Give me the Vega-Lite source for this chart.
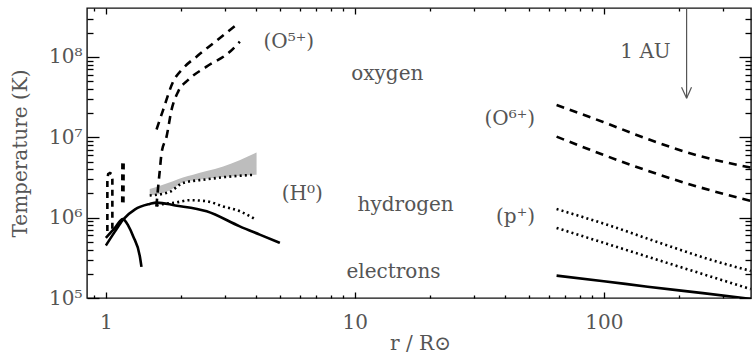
{
  "$schema": "https://vega.github.io/schema/vega-lite/v6.json",
  "autosize": {"type": "none"},
  "padding": {"left": 87, "top": 8, "right": 1, "bottom": 57},
  "width": 664,
  "height": 290,
  "background": "white",
  "config": {
    "view": {"stroke": "#111111", "strokeWidth": 1.4},
    "axis": {
      "grid": false,
      "domain": false,
      "ticks": true,
      "zindex": 1,
      "labelFont": "DejaVu Serif",
      "labelFontSize": 20,
      "labelColor": "#555555",
      "titleFont": "DejaVu Serif",
      "titleFontSize": 20,
      "titleFontWeight": "normal",
      "titleColor": "#555555",
      "tickColor": "#000000",
      "tickOpacity": 1,
      "tickWidth": 1.3
    }
  },
  "resolve": {"axis": {"x": "independent", "y": "independent"}},
  "layer": [
    {
      "data": {"values": [
        {"x": 1.50, "lo": 1.9e6, "hi": 2.27e6},
        {"x": 1.65, "lo": 1.97e6, "hi": 2.5e6},
        {"x": 1.86, "lo": 2.3e6, "hi": 2.83e6},
        {"x": 2.04, "lo": 2.75e6, "hi": 3.15e6},
        {"x": 2.24, "lo": 2.9e6, "hi": 3.42e6},
        {"x": 2.54, "lo": 3.05e6, "hi": 3.8e6},
        {"x": 2.96, "lo": 3.2e6, "hi": 4.33e6},
        {"x": 4.03, "lo": 3.42e6, "hi": 6.47e6}
      ]},
      "mark": {"type": "area", "color": "#bdbdbd", "clip": true, "interpolate": "monotone"},
      "encoding": {
        "x": {"field": "x", "type": "quantitative",
              "scale": {"type": "log", "domain": [0.84, 390], "nice": false},
              "axis": {"orient": "top", "values": [0.9, 2, 3, 4, 5, 6, 7, 8, 9, 20, 30, 40, 50, 60, 70, 80, 90, 200, 300],
                       "labels": false, "tickSize": 3, "offset": -3, "title": null}},
        "y": {"field": "lo", "type": "quantitative",
              "scale": {"type": "log", "domain": [1e5, 4.07e8], "nice": false},
              "axis": {"orient": "right", "values": [2e5, 3e5, 4e5, 5e5, 6e5, 7e5, 8e5, 9e5, 2e6, 3e6, 4e6, 5e6, 6e6, 7e6, 8e6, 9e6, 2e7, 3e7, 4e7, 5e7, 6e7, 7e7, 8e7, 9e7, 2e8, 3e8],
                       "labels": false, "tickSize": 6, "offset": -6, "title": null}},
        "y2": {"field": "hi"}
      }
    },
    {
      "data": {"values": [
        {"s": "d1", "i": 0, "x": 1.50, "y": 1.89e6},
        {"s": "d1", "i": 1, "x": 1.65, "y": 1.95e6},
        {"s": "d1", "i": 2, "x": 1.81, "y": 2.1e6},
        {"s": "d1", "i": 3, "x": 2.04, "y": 2.7e6},
        {"s": "d1", "i": 4, "x": 2.54, "y": 3.0e6},
        {"s": "d1", "i": 5, "x": 3.0, "y": 3.2e6},
        {"s": "d1", "i": 6, "x": 3.97, "y": 3.42e6},
        {"s": "d2", "i": 0, "x": 1.60, "y": 1.42e6},
        {"s": "d2", "i": 1, "x": 1.648, "y": 1.45e6},
        {"s": "d2", "i": 2, "x": 1.922, "y": 1.55e6},
        {"s": "d2", "i": 3, "x": 2.175, "y": 1.65e6},
        {"s": "d2", "i": 4, "x": 2.54, "y": 1.6e6},
        {"s": "d2", "i": 5, "x": 2.959, "y": 1.38e6},
        {"s": "d2", "i": 6, "x": 3.452, "y": 1.2e6},
        {"s": "d2", "i": 7, "x": 3.966, "y": 9.63e5},
        {"s": "d3", "i": 0, "x": 64.6, "y": 1.28e6},
        {"s": "d3", "i": 1, "x": 105.7, "y": 7.96e5},
        {"s": "d3", "i": 2, "x": 168, "y": 4.85e5},
        {"s": "d3", "i": 3, "x": 267, "y": 3.01e5},
        {"s": "d3", "i": 4, "x": 389, "y": 2.17e5},
        {"s": "d4", "i": 0, "x": 64.6, "y": 7.45e5},
        {"s": "d4", "i": 1, "x": 105.7, "y": 4.6e5},
        {"s": "d4", "i": 2, "x": 168, "y": 2.92e5},
        {"s": "d4", "i": 3, "x": 267, "y": 1.86e5},
        {"s": "d4", "i": 4, "x": 389, "y": 1.29e5}
      ]},
      "mark": {"type": "line", "color": "#000000", "strokeWidth": 2.6, "strokeDash": [2, 3.2], "clip": true, "interpolate": "monotone"},
      "encoding": {
        "x": {"field": "x", "type": "quantitative",
              "scale": {"type": "log", "domain": [0.84, 390], "nice": false},
              "axis": {"orient": "top", "values": [1, 10, 100], "labels": false, "tickSize": 6, "offset": -6, "title": null}},
        "y": {"field": "y", "type": "quantitative",
              "scale": {"type": "log", "domain": [1e5, 4.07e8], "nice": false},
              "axis": {"orient": "right", "values": [1e5, 1e6, 1e7, 1e8], "labels": false, "tickSize": 12, "offset": -12, "title": null}},
        "detail": {"field": "s"},
        "order": {"field": "i"}
      }
    },
    {
      "data": {"values": [
        {"s": "o5a", "i": 0, "x": 1.598, "y": 1.25e7},
        {"s": "o5a", "i": 1, "x": 1.699, "y": 2.2e7},
        {"s": "o5a", "i": 2, "x": 1.863, "y": 4.93e7},
        {"s": "o5a", "i": 3, "x": 2.044, "y": 7.24e7},
        {"s": "o5a", "i": 4, "x": 2.313, "y": 1.01e8},
        {"s": "o5a", "i": 5, "x": 2.698, "y": 1.48e8},
        {"s": "o5a", "i": 6, "x": 3.40, "y": 2.62e8},
        {"s": "o5b", "i": 0, "x": 1.595, "y": 1.37e6},
        {"s": "o5b", "i": 1, "x": 1.621, "y": 2.36e6},
        {"s": "o5b", "i": 2, "x": 1.648, "y": 3.95e6},
        {"s": "o5b", "i": 3, "x": 1.674, "y": 6.37e6},
        {"s": "o5b", "i": 4, "x": 1.753, "y": 1.02e7},
        {"s": "o5b", "i": 5, "x": 1.836, "y": 2.2e7},
        {"s": "o5b", "i": 6, "x": 1.952, "y": 3.71e7},
        {"s": "o5b", "i": 7, "x": 2.141, "y": 5.18e7},
        {"s": "o5b", "i": 8, "x": 2.538, "y": 7.58e7},
        {"s": "o5b", "i": 9, "x": 3.148, "y": 1.16e8},
        {"s": "o5b", "i": 10, "x": 3.452, "y": 1.55e8},
        {"s": "o6a", "i": 0, "x": 64.6, "y": 2.53e7},
        {"s": "o6a", "i": 1, "x": 99.4, "y": 1.55e7},
        {"s": "o6a", "i": 2, "x": 153, "y": 9.3e6},
        {"s": "o6a", "i": 3, "x": 236, "y": 6.0e6},
        {"s": "o6a", "i": 4, "x": 389, "y": 4.2e6},
        {"s": "o6b", "i": 0, "x": 64.6, "y": 1.02e7},
        {"s": "o6b", "i": 1, "x": 99.4, "y": 6.06e6},
        {"s": "o6b", "i": 2, "x": 153, "y": 3.76e6},
        {"s": "o6b", "i": 3, "x": 236, "y": 2.45e6},
        {"s": "o6b", "i": 4, "x": 389, "y": 1.62e6}
      ]},
      "mark": {"type": "line", "color": "#000000", "strokeWidth": 2.6, "strokeDash": [8, 6], "clip": true, "interpolate": "monotone"},
      "encoding": {
        "x": {"field": "x", "type": "quantitative",
              "scale": {"type": "log", "domain": [0.84, 390], "nice": false},
              "axis": {"orient": "bottom", "values": [0.9, 2, 3, 4, 5, 6, 7, 8, 9, 20, 30, 40, 50, 60, 70, 80, 90, 200, 300],
                       "labels": false, "tickSize": 3, "offset": -3, "title": null}},
        "y": {"field": "y", "type": "quantitative",
              "scale": {"type": "log", "domain": [1e5, 4.07e8], "nice": false},
              "axis": {"orient": "left", "values": [2e5, 3e5, 4e5, 5e5, 6e5, 7e5, 8e5, 9e5, 2e6, 3e6, 4e6, 5e6, 6e6, 7e6, 8e6, 9e6, 2e7, 3e7, 4e7, 5e7, 6e7, 7e7, 8e7, 9e7, 2e8, 3e8],
                       "labels": false, "tickSize": 6, "offset": -6, "title": null}},
        "detail": {"field": "s"},
        "order": {"field": "i"}
      }
    },
    {
      "data": {"values": [
        {"s": "h1", "i": 0, "x": 1.014, "y": 6.8e5},
        {"s": "h1", "i": 1, "x": 1.014, "y": 3.0e6},
        {"s": "h1", "i": 2, "x": 1.022, "y": 3.5e6},
        {"s": "h1", "i": 3, "x": 1.038, "y": 3.6e6},
        {"s": "h1", "i": 4, "x": 1.054, "y": 3.5e6},
        {"s": "h1", "i": 5, "x": 1.062, "y": 3.0e6},
        {"s": "h1", "i": 6, "x": 1.062, "y": 6.8e5}
      ]},
      "mark": {"type": "line", "color": "#000000", "strokeWidth": 2.6, "strokeDash": [6, 5], "clip": true},
      "encoding": {
        "x": {"field": "x", "type": "quantitative", "scale": {"type": "log", "domain": [0.84, 390], "nice": false}, "axis": null},
        "y": {"field": "y", "type": "quantitative", "scale": {"type": "log", "domain": [1e5, 4.07e8], "nice": false}, "axis": null},
        "order": {"field": "i"}
      }
    },
    {
      "data": {"values": [
        {"s": "e1", "i": 0, "x": 1.0, "y": 4.5e5},
        {"s": "e1", "i": 1, "x": 1.087, "y": 6.7e5},
        {"s": "e1", "i": 2, "x": 1.17, "y": 9.4e5},
        {"s": "e1", "i": 3, "x": 1.31, "y": 1.27e6},
        {"s": "e1", "i": 4, "x": 1.5, "y": 1.48e6},
        {"s": "e1", "i": 5, "x": 1.6, "y": 1.54e6},
        {"s": "e1", "i": 6, "x": 1.9, "y": 1.42e6},
        {"s": "e1", "i": 7, "x": 2.54, "y": 1.2e6},
        {"s": "e1", "i": 8, "x": 3.45, "y": 7.8e5},
        {"s": "e1", "i": 9, "x": 4.15, "y": 6.15e5},
        {"s": "e1", "i": 10, "x": 5.0, "y": 4.85e5},
        {"s": "e2", "i": 0, "x": 1.0, "y": 5.6e5},
        {"s": "e2", "i": 1, "x": 1.087, "y": 7.45e5},
        {"s": "e2", "i": 2, "x": 1.17, "y": 9.6e5},
        {"s": "e2", "i": 3, "x": 1.23, "y": 7.95e5},
        {"s": "e2", "i": 4, "x": 1.287, "y": 5.86e5},
        {"s": "e2", "i": 5, "x": 1.369, "y": 3.31e5},
        {"s": "e2", "i": 6, "x": 1.39, "y": 2.44e5},
        {"s": "e3", "i": 0, "x": 64.6, "y": 1.9e5},
        {"s": "e3", "i": 1, "x": 100, "y": 1.62e5},
        {"s": "e3", "i": 2, "x": 150, "y": 1.38e5},
        {"s": "e3", "i": 3, "x": 250, "y": 1.15e5},
        {"s": "e3", "i": 4, "x": 389, "y": 9.75e4}
      ]},
      "mark": {"type": "line", "color": "#000000", "strokeWidth": 2.6, "clip": true, "interpolate": "monotone"},
      "encoding": {
        "x": {"field": "x", "type": "quantitative",
              "scale": {"type": "log", "domain": [0.84, 390], "nice": false},
              "axis": {"orient": "bottom", "values": [1, 10, 100], "format": "d", "labels": true,
                       "tickSize": 6, "offset": -6, "labelPadding": 14, "title": "r / R⊙",
                       "titleBaseline": "middle", "titleY": 51, "titleX": 333}},
        "y": {"field": "y", "type": "quantitative",
              "scale": {"type": "log", "domain": [1e5, 4.07e8], "nice": false},
              "axis": {"orient": "left", "values": [1e5, 1e6, 1e7, 1e8], "tickSize": 12, "offset": -12, "labelPadding": 5,
                       "labelExpr": "datum.value < 5e5 ? '10⁵' : datum.value < 5e6 ? '10⁶' : datum.value < 5e7 ? '10⁷' : '10⁸'",
                       "title": "Temperature (K)", "titleBaseline": "middle", "titleX": -79, "titleY": 145}},
        "detail": {"field": "s"},
        "order": {"field": "i"}
      }
    },
    {
      "data": {"values": [
        {"s": "h2", "i": 0, "x": 1.17, "y": 1.55e6},
        {"s": "h2", "i": 1, "x": 1.172, "y": 4.8e6}
      ]},
      "mark": {"type": "line", "color": "#000000", "strokeWidth": 3.8, "strokeDash": [6, 5], "clip": true},
      "encoding": {
        "x": {"field": "x", "type": "quantitative", "scale": {"type": "log", "domain": [0.84, 390], "nice": false}, "axis": null},
        "y": {"field": "y", "type": "quantitative", "scale": {"type": "log", "domain": [1e5, 4.07e8], "nice": false}, "axis": null},
        "order": {"field": "i"}
      }
    },
    {
      "data": {"values": [
        {"s": "shaft", "i": 0, "x": 215, "y": 4.07e8},
        {"s": "shaft", "i": 1, "x": 215, "y": 3.07e7},
        {"s": "left", "i": 0, "x": 205.2, "y": 4.2e7},
        {"s": "left", "i": 1, "x": 215, "y": 3.07e7},
        {"s": "right", "i": 0, "x": 225, "y": 4.2e7},
        {"s": "right", "i": 1, "x": 215, "y": 3.07e7}
      ]},
      "mark": {"type": "line", "color": "#555555", "strokeWidth": 1.2, "clip": true},
      "encoding": {
        "x": {"field": "x", "type": "quantitative", "scale": {"type": "log", "domain": [0.84, 390], "nice": false}, "axis": null},
        "y": {"field": "y", "type": "quantitative", "scale": {"type": "log", "domain": [1e5, 4.07e8], "nice": false}, "axis": null},
        "detail": {"field": "s"},
        "order": {"field": "i"}
      }
    },
    {
      "data": {"values": [
        {"t": "(O⁵⁺)", "x": 5.43, "y": 1.28e8},
        {"t": "oxygen", "x": 13.5, "y": 5.18e7},
        {"t": "(O⁶⁺)", "x": 41.9, "y": 1.43e7},
        {"t": "(H⁰)", "x": 6.15, "y": 1.67e6},
        {"t": "hydrogen", "x": 16.0, "y": 1.2e6},
        {"t": "(p⁺)", "x": 44.2, "y": 8.6e5},
        {"t": "electrons", "x": 14.3, "y": 1.78e5},
        {"t": "1 AU", "x": 147, "y": 9.8e7}
      ]},
      "mark": {"type": "text", "font": "DejaVu Serif", "fontSize": 20, "color": "#555555", "align": "center", "baseline": "alphabetic"},
      "encoding": {
        "x": {"field": "x", "type": "quantitative", "scale": {"type": "log", "domain": [0.84, 390], "nice": false}, "axis": null},
        "y": {"field": "y", "type": "quantitative", "scale": {"type": "log", "domain": [1e5, 4.07e8], "nice": false}, "axis": null},
        "text": {"field": "t"}
      }
    }
  ]
}
